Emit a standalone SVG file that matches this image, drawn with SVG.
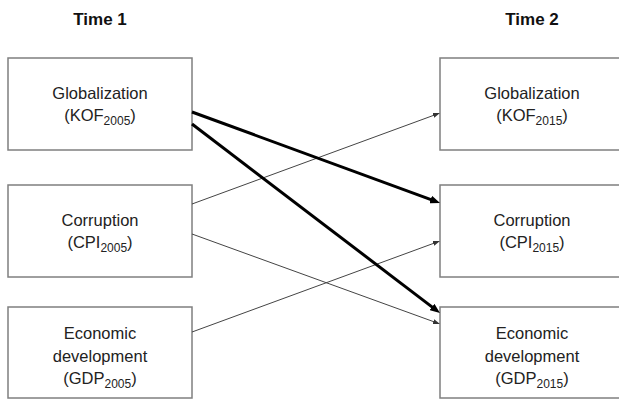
<svg xmlns="http://www.w3.org/2000/svg" width="619" height="400" viewBox="0 0 619 400">
<style>
.box{fill:#fff;stroke:#7f7f7f;stroke-width:1.5}
.t{font-family:"Liberation Sans",Arial,sans-serif;font-size:16.5px;fill:#222;text-anchor:middle}
.sub{font-size:12px}
.hd{font-family:"Liberation Sans",Arial,sans-serif;font-size:17px;font-weight:bold;fill:#111;text-anchor:middle}
.thick{stroke:#000;stroke-width:3;fill:none}
.thin{stroke:#444;stroke-width:1;fill:none}
</style>
<defs>
<marker id="ah" markerUnits="userSpaceOnUse" markerWidth="10" markerHeight="8" refX="4" refY="4" orient="auto"><path d="M0,0 L10,4 L0,8 z" fill="#000"/></marker>
<marker id="ahs" markerUnits="userSpaceOnUse" markerWidth="7" markerHeight="5" refX="3" refY="2.5" orient="auto"><path d="M0,0 L7,2.5 L0,5 z" fill="#333"/></marker>
</defs>
<rect width="619" height="400" fill="#fff"/>
<text class="hd" x="100" y="25">Time 1</text>
<text class="hd" x="532" y="25">Time 2</text>
<g id="glob1"><rect class="box" x="8" y="58" width="184" height="92"/>
<text class="t" x="100" y="99">Globalization</text>
<text class="t" x="100" y="121">(KOF<tspan class="sub" dy="4">2005</tspan><tspan dy="-4">)</tspan></text></g>
<g id="corr1"><rect class="box" x="8" y="185" width="184" height="92"/>
<text class="t" x="100" y="226">Corruption</text>
<text class="t" x="100" y="248">(CPI<tspan class="sub" dy="4">2005</tspan><tspan dy="-4">)</tspan></text></g>
<g id="econ1"><rect class="box" x="8" y="307" width="184" height="91"/>
<text class="t" x="100" y="339">Economic</text>
<text class="t" x="100" y="362">development</text>
<text class="t" x="100" y="384">(GDP<tspan class="sub" dy="4">2005</tspan><tspan dy="-4">)</tspan></text></g>
<g id="glob2"><rect class="box" x="440" y="58" width="184" height="92"/>
<text class="t" x="532" y="99">Globalization</text>
<text class="t" x="532" y="121">(KOF<tspan class="sub" dy="4">2015</tspan><tspan dy="-4">)</tspan></text></g>
<g id="corr2"><rect class="box" x="440" y="185" width="184" height="92"/>
<text class="t" x="532" y="226">Corruption</text>
<text class="t" x="532" y="248">(CPI<tspan class="sub" dy="4">2015</tspan><tspan dy="-4">)</tspan></text></g>
<g id="econ2"><rect class="box" x="440" y="307" width="184" height="91"/>
<text class="t" x="532" y="339">Economic</text>
<text class="t" x="532" y="362">development</text>
<text class="t" x="532" y="384">(GDP<tspan class="sub" dy="4">2015</tspan><tspan dy="-4">)</tspan></text></g>
<g id="connectors">
<path class="thin" d="M192,204 L436.2,114.4" marker-end="url(#ahs)"/>
<path class="thin" d="M192,234 L436.2,322.6" marker-end="url(#ahs)"/>
<path class="thin" d="M192,332 L436.2,242.4" marker-end="url(#ahs)"/>
<path class="thick" d="M192,112 L434.4,200.9" marker-end="url(#ah)"/>
<path class="thick" d="M192,124 L435.2,309.4" marker-end="url(#ah)"/>
</g>
</svg>
